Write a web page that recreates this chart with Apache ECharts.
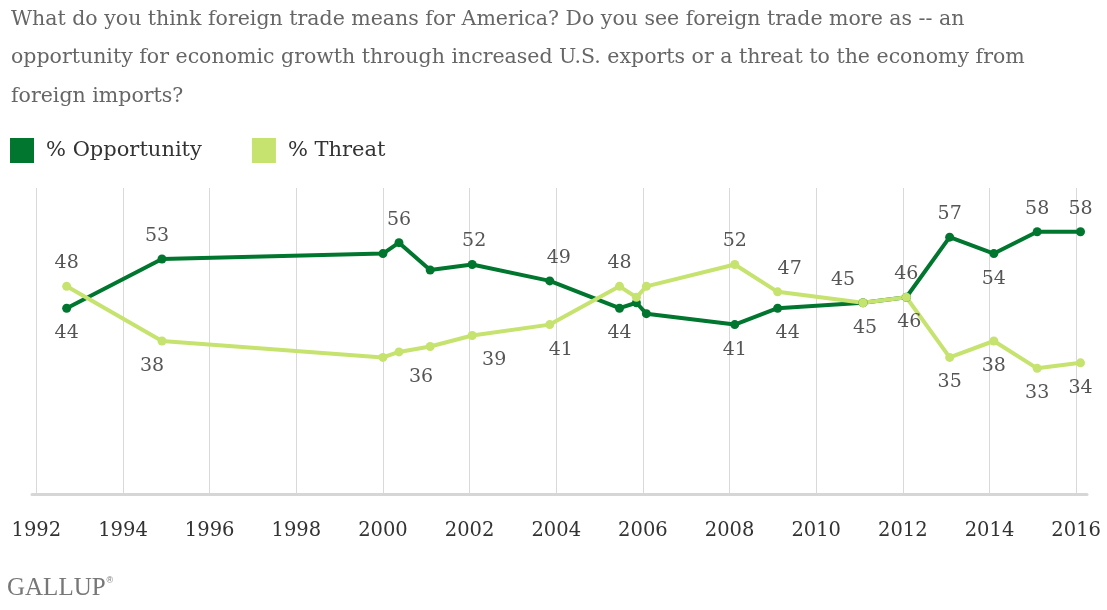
<!DOCTYPE html>
<html>
<head>
<meta charset="utf-8">
<script src="https://cdn.jsdelivr.net/npm/echarts@6/dist/echarts.min.js"></script>
<style>
html, body { margin: 0; padding: 0; background: #fff; }
#chart { width: 1107px; height: 610px; }
</style>
</head>
<body>
<div id="chart"></div>
<script>
// survey dates (fractional years) and results
const years = [1992.7, 1994.9, 2000.0, 2000.37, 2001.09, 2002.06, 2003.85, 2005.46, 2005.85, 2006.08,
  2008.12, 2009.11, 2011.08, 2012.08, 2013.08, 2014.1, 2015.1, 2016.1];
const opportunity = [44, 53, 54, 56, 51, 52, 49, 44, 45, 43, 41, 44, 45, 46, 57, 54, 58, 58];
const threat = [48, 38, 35, 36, 37, 39, 41, 48, 46, 48, 52, 47, 45, 46, 35, 38, 33, 34];
const tickYears = [1992, 1994, 1996, 1998, 2000, 2002, 2004, 2006, 2008, 2010, 2012, 2014, 2016];

// where each value label goes ('' = no label), and a small sideways nudge
const oppLabelSide = ['bottom', 'top', '', 'top', '', 'top', 'top', 'bottom', '', '', 'bottom', 'bottom', 'bottom', 'top', 'top', 'bottom', 'top', 'top'];
const oppLabelDx = [0, -5, 0, 0, 0, 2, 9, 0, 0, 0, 0, 10, 2, 0, 0, 0, 0, 0];
const thrLabelSide = ['top', 'bottom', '', 'bottom', '', 'bottom', 'bottom', 'top', '', '', 'top', 'top', 'top', 'bottom', 'bottom', 'bottom', 'bottom', 'bottom'];
const thrLabelDx = [0, -10, 0, 22, 0, 22, 11, 0, 0, 0, 0, 12, -20, 3, 0, 0, 0, 0];

const FONT = "'DejaVu Serif', serif";
const DARK = '#00762f';
const LIGHT = '#c5e36e';

function buildPoints(values, sides, dxs) {
  return values.map((v, i) => {
    const side = sides[i];
    return {
      value: [years[i], v],
      label: side
        ? { show: true, position: side, distance: side === 'top' ? 9 : 11, offset: [dxs[i], 0] }
        : { show: false }
    };
  });
}

const myChart = echarts.init(document.getElementById('chart'));

const option = {
  animation: false,
  title: {
    text: 'What do you think foreign trade means for America? Do you see foreign trade more as -- an\n' +
      'opportunity for economic growth through increased U.S. exports or a threat to the economy from\n' +
      'foreign imports?',
    left: 11,
    top: 0,
    padding: 0,
    textStyle: {
      fontFamily: FONT,
      fontWeight: 'normal',
      fontSize: 20.5,
      lineHeight: 38.5,
      color: '#666'
    }
  },
  legend: {
    data: ['% Opportunity', '% Threat'],
    left: 10,
    top: 138,
    padding: 0,
    icon: 'rect',
    itemWidth: 24,
    itemHeight: 25,
    itemGap: 50,
    textStyle: {
      fontFamily: FONT,
      fontSize: 21,
      color: '#333',
      padding: [0, 0, 0, 7]
    }
  },
  grid: {
    left: 32,
    right: 20,
    top: 188,
    bottom: 116,
    containLabel: false
  },
  xAxis: {
    type: 'value',
    min: 1991.9,
    max: 2016.25,
    splitNumber: 12,
    axisLine: { show: true, lineStyle: { color: '#d6d6d6', width: 3 } },
    axisTick: { show: false },
    axisLabel: {
      margin: 27,
      fontFamily: FONT,
      fontSize: 19.5,
      color: '#333',
      formatter: (v) => (tickYears.indexOf(v) >= 0 ? String(v) : '')
    },
    splitLine: {
      show: true,
      showMinLine: false,
      showMaxLine: false,
      lineStyle: { color: '#d9d9d9', width: 1 }
    }
  },
  yAxis: {
    type: 'value',
    min: 10,
    max: 66,
    show: false,
    splitLine: { show: false }
  },
  series: [
    {
      name: '% Opportunity',
      type: 'line',
      data: buildPoints(opportunity, oppLabelSide, oppLabelDx),
      symbol: 'circle',
      symbolSize: 9,
      clip: false,
      color: DARK,
      lineStyle: { width: 4, color: DARK },
      itemStyle: { color: DARK },
      label: {
        fontFamily: FONT,
        fontSize: 19,
        color: '#555',
        formatter: (p) => p.value[1]
      }
    },
    {
      name: '% Threat',
      type: 'line',
      data: buildPoints(threat, thrLabelSide, thrLabelDx),
      symbol: 'circle',
      symbolSize: 9,
      clip: false,
      color: LIGHT,
      lineStyle: { width: 4, color: LIGHT },
      itemStyle: { color: LIGHT },
      label: {
        fontFamily: FONT,
        fontSize: 19,
        color: '#555',
        formatter: (p) => p.value[1]
      }
    }
  ],
  graphic: [
    {
      type: 'text',
      left: 7,
      top: 576,
      style: {
        text: 'GALLUP{r|®}',
        font: "25px 'Liberation Serif', serif",
        fill: '#777',
        rich: {
          r: { fontSize: 9, fill: '#777', verticalAlign: 'top', padding: [0, 0, 12, 1] }
        }
      }
    }
  ]
};

myChart.setOption(option);
</script>
</body>
</html>
